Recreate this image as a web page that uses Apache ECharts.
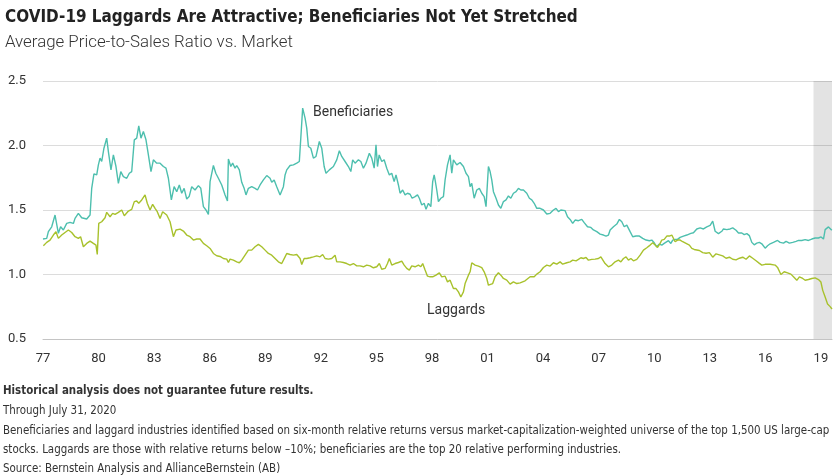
<!DOCTYPE html>
<html><head><meta charset="utf-8">
<script src="https://cdn.jsdelivr.net/npm/echarts@6/dist/echarts.min.js"></script>
<style>html,body{margin:0;padding:0;background:#fff}#c{width:840px;height:476px}</style>
</head><body><div id="c"></div>
<script>
// ---------- text ----------
const titleText = 'COVID-19 Laggards Are Attractive; Beneficiaries Not Yet Stretched';
const subtitleText = 'Average Price-to-Sales Ratio vs. Market';
const footerLines = [
  'Historical analysis does not guarantee future results.',
  'Through July 31, 2020',
  'Beneficiaries and laggard industries identified based on six-month relative returns versus market-capitalization-weighted universe of the top 1,500 US large-cap',
  'stocks. Laggards are those with relative returns below \u201310%; beneficiaries are the top 20 relative performing industries.',
  'Source: Bernstein Analysis and AllianceBernstein (AB)'
];
const seriesNames = ['Beneficiaries', 'Laggards'];

// ---------- axes ----------
const yTicks = [0.5, 1.0, 1.5, 2.0, 2.5];
const xYearStart = 1977;
const xYearEnd = 2019.6;
const xTickStep = 3;
const shadeYears = [2018.6, 2019.6];

// ---------- data (decimal year, ratio) ----------
const benefYears = [
1977.00,1977.20,1977.29,1977.47,1977.65,1977.83,1977.95,1978.10,1978.28,1978.46,1978.64,1978.73,1978.91,1979.09,1979.36,1979.54,1979.63,1979.75,1979.90,1979.99,
1980.08,1980.17,1980.29,1980.44,1980.53,1980.67,1980.80,1980.94,1981.07,1981.20,1981.34,1981.52,1981.66,1981.79,1981.93,1982.06,1982.17,1982.29,1982.42,1982.56,
1982.69,1982.83,1982.96,1983.14,1983.32,1983.50,1983.64,1983.77,1983.93,1984.08,1984.22,1984.36,1984.49,1984.62,1984.76,1984.89,1985.03,1985.21,1985.39,1985.52,
1985.66,1985.80,1985.93,1986.02,1986.11,1986.20,1986.33,1986.47,1986.65,1986.74,1986.83,1986.96,1987.01,1987.14,1987.24,1987.37,1987.46,1987.60,1987.73,1987.86,
1987.96,1988.09,1988.27,1988.45,1988.58,1988.72,1988.90,1989.08,1989.26,1989.35,1989.48,1989.62,1989.80,1989.89,1989.98,1990.07,1990.16,1990.34,1990.52,1990.70,
1990.84,1990.93,1991.02,1991.15,1991.24,1991.33,1991.46,1991.60,1991.74,1991.92,1992.05,1992.18,1992.28,1992.46,1992.68,1992.86,1993.00,1993.13,1993.31,1993.49,
1993.62,1993.72,1993.85,1994.03,1994.16,1994.30,1994.44,1994.62,1994.75,1994.88,1994.98,1995.06,1995.15,1995.29,1995.42,1995.56,1995.70,1995.83,1995.96,1996.06,
1996.19,1996.28,1996.42,1996.55,1996.68,1996.82,1996.93,1997.09,1997.22,1997.32,1997.45,1997.58,1997.68,1997.81,1997.94,1998.04,1998.12,1998.17,1998.26,1998.35,
1998.48,1998.62,1998.71,1998.84,1998.98,1999.07,1999.16,1999.34,1999.52,1999.70,1999.84,1999.97,2000.06,2000.15,2000.28,2000.42,2000.56,2000.69,2000.82,2000.92,
2001.05,2001.14,2001.23,2001.32,2001.46,2001.59,2001.72,2001.86,2002.00,2002.13,2002.26,2002.40,2002.54,2002.67,2002.80,2002.94,2003.12,2003.26,2003.39,2003.52,
2003.66,2003.84,2004.02,2004.20,2004.38,2004.56,2004.70,2004.83,2004.96,2005.19,2005.32,2005.46,2005.60,2005.73,2005.91,2006.09,2006.22,2006.40,2006.58,2006.72,
2006.90,2007.08,2007.26,2007.40,2007.53,2007.62,2007.80,2007.98,2008.12,2008.25,2008.38,2008.52,2008.70,2008.84,2009.02,2009.20,2009.38,2009.56,2009.74,2009.87,
2010.00,2010.14,2010.28,2010.41,2010.54,2010.64,2010.77,2010.90,2011.00,2011.13,2011.26,2011.40,2011.58,2011.76,2011.98,2012.12,2012.30,2012.48,2012.66,2012.84,
2013.02,2013.16,2013.29,2013.47,2013.65,2013.74,2013.92,2014.10,2014.24,2014.42,2014.55,2014.73,2014.86,2015.00,2015.14,2015.27,2015.40,2015.54,2015.68,2015.81,
2015.99,2016.12,2016.26,2016.44,2016.66,2016.80,2016.98,2017.12,2017.30,2017.48,2017.66,2017.79,2017.97,2018.15,2018.33,2018.51,2018.69,2018.87,2019.01,2019.14,
2019.23,2019.41,2019.59
];
const benefValues = [
1.275,1.280,1.332,1.370,1.461,1.319,1.370,1.345,1.396,1.404,1.396,1.435,1.474,1.440,1.430,1.461,1.668,1.780,1.772,1.850,
1.902,1.876,1.979,2.057,1.953,1.811,1.927,1.837,1.707,1.798,1.759,1.746,1.785,1.798,2.044,2.057,2.153,2.057,2.109,2.044,
1.927,1.798,1.889,1.863,1.863,1.837,1.824,1.746,1.578,1.681,1.642,1.694,1.630,1.668,1.585,1.604,1.681,1.655,1.689,1.668,
1.526,1.500,1.466,1.720,1.733,1.845,1.785,1.746,1.694,1.707,1.617,1.570,1.896,1.837,1.863,1.824,1.845,1.811,1.715,1.668,
1.617,1.668,1.681,1.668,1.655,1.694,1.733,1.767,1.746,1.715,1.733,1.681,1.617,1.611,1.681,1.772,1.811,1.845,1.850,1.863,
1.876,1.863,2.290,2.212,2.135,1.992,1.979,1.902,1.915,2.031,1.979,1.837,1.785,1.811,1.837,1.889,1.959,1.915,1.876,1.837,
1.798,1.889,1.863,1.889,1.876,1.824,1.863,1.940,1.902,1.824,2.005,1.837,1.927,1.876,1.889,1.824,1.772,1.785,1.720,1.772,
1.694,1.630,1.655,1.617,1.630,1.622,1.591,1.604,1.617,1.591,1.539,1.552,1.505,1.552,1.526,1.720,1.772,1.733,1.655,1.565,
1.591,1.604,1.733,1.850,1.927,1.785,1.889,1.850,1.868,1.837,1.785,1.759,1.681,1.707,1.591,1.655,1.668,1.630,1.604,1.526,
1.837,1.798,1.733,1.642,1.591,1.539,1.513,1.565,1.578,1.609,1.591,1.630,1.642,1.668,1.655,1.655,1.630,1.591,1.578,1.552,
1.513,1.513,1.500,1.469,1.474,1.500,1.513,1.487,1.500,1.495,1.448,1.427,1.396,1.422,1.417,1.427,1.402,1.370,1.365,1.345,
1.332,1.313,1.306,1.298,1.306,1.345,1.370,1.391,1.427,1.409,1.370,1.383,1.332,1.293,1.298,1.298,1.280,1.267,1.262,1.267,
1.246,1.215,1.236,1.228,1.241,1.228,1.262,1.241,1.267,1.272,1.272,1.288,1.298,1.306,1.319,1.324,1.353,1.361,1.353,1.369,
1.380,1.414,1.335,1.317,1.335,1.353,1.348,1.353,1.361,1.343,1.322,1.322,1.309,1.317,1.301,1.249,1.230,1.243,1.249,1.238,
1.204,1.223,1.238,1.249,1.264,1.249,1.243,1.257,1.243,1.249,1.257,1.264,1.264,1.270,1.264,1.275,1.283,1.283,1.291,1.275,
1.348,1.369,1.343
];
const lagYears = [
1977.02,1977.20,1977.38,1977.56,1977.70,1977.83,1978.01,1978.19,1978.37,1978.55,1978.73,1978.91,1979.03,1979.18,1979.36,1979.54,1979.72,1979.86,1979.93,1980.01,
1980.17,1980.35,1980.44,1980.62,1980.76,1980.89,1981.07,1981.25,1981.39,1981.61,1981.79,1981.93,1982.06,1982.17,1982.33,1982.51,1982.63,1982.78,1982.92,1983.05,
1983.17,1983.32,1983.46,1983.68,1983.86,1984.04,1984.18,1984.40,1984.58,1984.76,1984.94,1985.12,1985.30,1985.48,1985.66,1985.84,1986.02,1986.20,1986.38,1986.56,
1986.74,1986.92,1987.01,1987.10,1987.28,1987.46,1987.60,1987.73,1987.91,1988.09,1988.27,1988.45,1988.63,1988.81,1988.99,1989.17,1989.35,1989.53,1989.71,1989.89,
1990.07,1990.16,1990.34,1990.52,1990.70,1990.88,1990.97,1991.10,1991.24,1991.42,1991.60,1991.78,1991.96,1992.10,1992.23,1992.41,1992.59,1992.77,1992.86,1993.04,
1993.22,1993.40,1993.58,1993.76,1993.94,1994.12,1994.30,1994.48,1994.66,1994.84,1995.02,1995.16,1995.29,1995.47,1995.60,1995.70,1995.83,1996.01,1996.19,1996.37,
1996.50,1996.64,1996.78,1996.91,1997.09,1997.27,1997.40,1997.50,1997.63,1997.76,1997.90,1998.04,1998.22,1998.40,1998.53,1998.71,1998.84,1998.98,1999.16,1999.30,
1999.43,1999.56,1999.70,1999.79,1999.97,2000.06,2000.15,2000.33,2000.51,2000.69,2000.82,2000.96,2001.05,2001.14,2001.28,2001.41,2001.59,2001.72,2001.86,2002.04,
2002.22,2002.40,2002.58,2002.76,2003.03,2003.30,2003.52,2003.66,2003.84,2004.02,2004.20,2004.38,2004.56,2004.74,2004.92,2005.06,2005.28,2005.46,2005.60,2005.78,
2005.91,2006.04,2006.18,2006.32,2006.45,2006.63,2006.81,2006.99,2007.12,2007.22,2007.35,2007.53,2007.71,2007.89,2008.07,2008.20,2008.34,2008.48,2008.61,2008.74,
2008.88,2009.06,2009.24,2009.42,2009.60,2009.78,2009.92,2010.05,2010.18,2010.32,2010.41,2010.54,2010.68,2010.82,2010.95,2011.04,2011.13,2011.26,2011.40,2011.54,
2011.72,2011.90,2012.03,2012.16,2012.26,2012.44,2012.62,2012.80,2012.98,2013.16,2013.34,2013.52,2013.70,2013.88,2014.06,2014.24,2014.42,2014.60,2014.78,2014.96,
2015.14,2015.32,2015.50,2015.68,2015.81,2015.99,2016.26,2016.53,2016.66,2016.84,2017.02,2017.20,2017.38,2017.56,2017.70,2017.84,2018.02,2018.15,2018.33,2018.51,
2018.69,2018.87,2019.00,2019.10,2019.23,2019.36,2019.50,2019.60
];
const lagValues = [
1.223,1.249,1.267,1.306,1.332,1.280,1.306,1.326,1.345,1.326,1.293,1.280,1.293,1.215,1.241,1.259,1.241,1.228,1.155,1.396,
1.409,1.440,1.482,1.448,1.474,1.466,1.482,1.500,1.456,1.492,1.505,1.565,1.570,1.552,1.578,1.617,1.552,1.500,1.544,1.513,
1.487,1.435,1.487,1.461,1.409,1.293,1.345,1.352,1.337,1.306,1.293,1.267,1.275,1.275,1.241,1.223,1.202,1.163,1.145,1.140,
1.124,1.119,1.093,1.119,1.111,1.098,1.091,1.111,1.150,1.189,1.189,1.215,1.233,1.215,1.189,1.163,1.150,1.124,1.098,1.085,
1.137,1.163,1.155,1.150,1.155,1.124,1.078,1.124,1.124,1.130,1.137,1.145,1.137,1.155,1.124,1.119,1.124,1.150,1.098,1.098,
1.093,1.085,1.073,1.085,1.067,1.067,1.060,1.073,1.067,1.052,1.060,1.085,1.041,1.047,1.085,1.124,1.073,1.085,1.093,1.104,
1.073,1.047,1.034,1.067,1.060,1.073,1.060,1.085,1.034,0.987,0.982,0.982,0.995,1.013,0.982,0.987,0.943,0.956,0.891,0.891,
0.865,0.826,0.865,0.930,0.995,1.021,1.091,1.073,1.065,1.054,1.021,0.969,0.917,0.904,0.930,0.982,1.013,0.995,0.969,0.956,
0.925,0.943,0.930,0.935,0.951,0.982,0.982,1.003,1.021,1.054,1.073,1.065,1.091,1.080,1.098,1.080,1.091,1.098,1.111,1.106,
1.117,1.130,1.124,1.132,1.111,1.117,1.119,1.124,1.137,1.124,1.085,1.060,1.073,1.098,1.111,1.098,1.124,1.137,1.111,1.124,
1.106,1.117,1.150,1.189,1.207,1.228,1.246,1.228,1.210,1.241,1.267,1.272,1.298,1.298,1.306,1.313,1.254,1.267,1.267,1.254,
1.241,1.228,1.202,1.194,1.191,1.186,1.170,1.165,1.170,1.134,1.160,1.152,1.144,1.126,1.134,1.118,1.113,1.126,1.134,1.118,
1.144,1.126,1.107,1.086,1.073,1.079,1.079,1.073,1.055,1.000,1.021,1.013,1.003,0.976,0.955,0.982,0.969,0.955,0.961,0.969,
0.974,0.961,0.942,0.877,0.825,0.772,0.751,0.733
];

// ---------- style ----------
const tealColor = '#4dbfae';
const limeColor = '#a8c12c';
const textColor = '#333333';

// font helpers
const ctx = document.createElement('canvas').getContext('2d');
function hasFont(f) {
  const s = 'abcdefghijklmnopqrstuvwxyzABCDEFGHIJ';
  ctx.font = '40px monospace'; const a = ctx.measureText(s).width;
  ctx.font = '40px "' + f + '", monospace'; const b = ctx.measureText(s).width;
  return a !== b;
}
const narrowCandidates = ['Liberation Sans Narrow', 'DejaVu Sans Condensed', 'Roboto Condensed'];
let narrow = 'Roboto';
for (const f of narrowCandidates) { if (hasFont(f)) { narrow = f; break; } }
const narrowFam = '"' + narrow + '", Roboto, sans-serif';
function fitSize(text, fam, weight, target) {
  ctx.font = weight + ' 100px ' + fam;
  return 100 * target / ctx.measureText(text).width;
}

const titleSize = Math.min(19, fitSize(titleText, narrowFam, 'bold', 573));
const subSize = fitSize(subtitleText, 'Roboto', '300', 288);
const footSize = fitSize(footerLines[2], narrowFam, 'normal', 827);
const footY = [391, 411, 431, 450, 469];

const benefData = benefYears.map((y, i) => [y, benefValues[i]]);
const lagData = lagYears.map((y, i) => [y, lagValues[i]]);

const chart = echarts.init(document.getElementById('c'), null, {renderer: 'canvas'});
const graphics = [
  {type: 'text', x: 5, y: 17.5, style: {text: titleText, font: 'bold ' + titleSize.toFixed(2) + 'px ' + narrowFam, fill: '#222', textVerticalAlign: 'middle'}},
  {type: 'text', x: 5, y: 43, style: {text: subtitleText, font: '300 ' + subSize.toFixed(2) + 'px Roboto', fill: textColor, textVerticalAlign: 'middle'}}
];
footerLines.forEach((t, i) => {
  graphics.push({type: 'text', x: 3, y: footY[i], style: {text: t, font: (i === 0 ? 'bold ' : 'normal ') + footSize.toFixed(2) + 'px ' + narrowFam, fill: textColor, textVerticalAlign: 'middle'}});
});
graphics.push({type: 'text', x: 313, y: 112, style: {text: seriesNames[0], font: '14px Roboto', fill: textColor, textVerticalAlign: 'middle'}});
graphics.push({type: 'text', x: 427, y: 310, style: {text: seriesNames[1], font: '14px Roboto', fill: textColor, textVerticalAlign: 'middle'}});

chart.setOption({
  animation: false,
  backgroundColor: '#ffffff',
  grid: {left: 43, right: 8, top: 81, bottom: 137, containLabel: false},
  xAxis: {
    type: 'value', min: xYearStart, max: xYearEnd, interval: xTickStep,
    axisLine: {show: true, lineStyle: {color: '#c4c4c4', width: 1}},
    axisTick: {show: false},
    splitLine: {show: false},
    axisLabel: {
      color: textColor, fontSize: 13, fontFamily: 'Roboto', margin: 13,
      formatter: v => String(Math.round(v) % 100).padStart(2, '0')
    }
  },
  yAxis: {
    type: 'value', min: yTicks[0], max: yTicks[yTicks.length - 1], interval: yTicks[1] - yTicks[0],
    axisLine: {show: false}, axisTick: {show: false},
    splitLine: {lineStyle: {color: '#dcdcdc', width: 1}},
    axisLabel: {color: textColor, fontSize: 13, fontFamily: 'Roboto', align: 'left', margin: 35, formatter: v => v.toFixed(1)}
  },
  series: [
    {
      name: seriesNames[0], type: 'line', data: benefData, showSymbol: false, symbol: 'none',
      lineStyle: {color: tealColor, width: 1.4}, z: 3,
      markArea: {silent: true, itemStyle: {color: 'rgba(0,0,0,0.11)'}, data: [[{xAxis: shadeYears[0]}, {xAxis: shadeYears[1]}]]}
    },
    {
      name: seriesNames[1], type: 'line', data: lagData, showSymbol: false, symbol: 'none',
      lineStyle: {color: limeColor, width: 1.4}, z: 3
    }
  ],
  graphic: graphics
});
</script></body></html>
